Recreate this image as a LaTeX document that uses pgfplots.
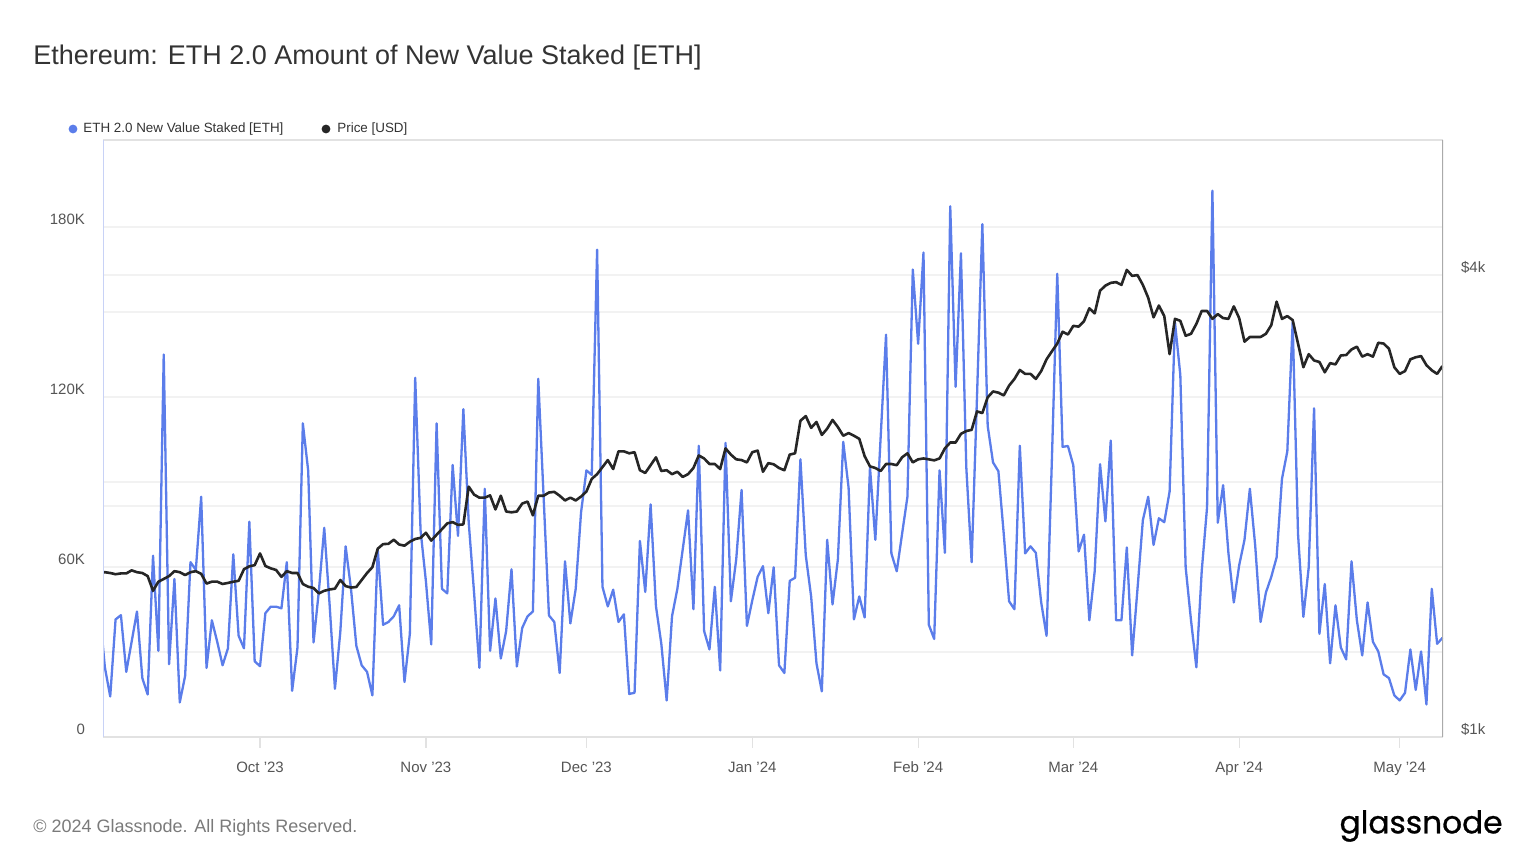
\documentclass[border=0pt]{standalone}
\usepackage{fontspec}
\setmainfont{Liberation Sans}
\newfontfamily\logofont{Poppins}[FakeBold=0.8]
\usepackage{graphicx}
\usepackage{pgfplots}
\pgfplotsset{compat=1.18}
\usepackage{pgfplotstable}
\definecolor{stakeblue}{HTML}{5B7DEA}
\definecolor{pricedark}{HTML}{262626}
\definecolor{gridgray}{HTML}{F2F2F2}
\definecolor{leftspine}{HTML}{C8D2F6}
\definecolor{rightspine}{HTML}{AAAAAA}
\definecolor{framegray}{HTML}{E2E2E2}
\definecolor{ticktext}{HTML}{555555}
\definecolor{titletext}{HTML}{333333}
\definecolor{foottext}{HTML}{7A7A7A}

% day index: 0 = 1 Oct 2023
\pgfplotstableread{
d v
-30 45000
-29 24600
-28 14300
-27 41500
-26 43000
-25 23000
-24 33600
-23 44300
-22 20800
-21 15000
-20 64000
-19 30400
-18 135000
-17 25700
-16 55800
-15 12200
-14 21600
-13 61700
-12 59000
-11 84800
-10 24400
-9 41200
-8 33600
-7 25300
-6 31300
-5 64500
-4 35700
-3 31300
-2 76000
-1 26700
0 25000
1 43700
2 46000
3 46000
4 45400
5 61700
6 16300
7 31600
8 110700
9 94000
10 33400
11 51600
12 73800
13 46800
14 17000
15 37000
16 67300
17 52300
18 32200
19 25300
20 23000
21 14700
22 66200
23 39600
24 40600
25 42600
26 46500
27 19400
28 36400
29 126800
30 73000
31 55000
32 32700
33 110700
34 52300
35 50700
36 96000
37 71000
38 115700
39 75800
40 51000
41 24400
42 87600
43 30400
44 48900
45 27700
46 37400
47 59200
48 24900
49 38500
50 42600
51 44300
52 126400
53 84800
54 42900
55 40600
56 22600
57 62000
58 40100
59 52300
60 79300
61 94100
62 92500
63 172000
64 53000
65 46100
66 52000
67 40600
68 43300
69 15200
70 15600
71 69200
72 51200
73 82100
74 46100
75 32900
76 12900
77 42600
78 52300
79 66200
80 80000
81 45100
82 102800
83 37400
84 30900
85 53000
86 23500
87 103800
88 47900
89 62700
90 87200
91 39200
92 48200
93 56500
94 60300
95 43700
96 59900
97 25300
98 22600
99 55100
100 56200
101 98000
102 64100
103 49600
104 26000
105 16100
106 69600
107 46800
108 62700
109 104200
110 88000
111 41500
112 49600
113 42200
114 95200
115 69600
116 106000
117 142000
118 64800
119 58500
120 71700
121 84800
122 165000
123 138800
124 171000
125 39600
126 34600
127 94100
128 65000
129 187300
130 123600
131 170700
132 95200
133 61700
134 120000
135 181000
136 109800
137 96900
138 93800
139 71700
140 47900
141 45100
142 102800
143 64800
144 67300
145 65000
146 47500
147 35700
148 98000
149 163500
150 102400
151 102700
152 95900
153 65500
154 71400
155 41200
156 58500
157 96300
158 76100
159 104600
160 41200
161 41200
162 66900
163 28800
164 52300
165 76500
166 84800
167 67800
168 77200
169 75800
170 86600
171 146400
172 127800
173 59900
174 41200
175 24600
176 58500
177 81100
178 192800
179 75600
180 88900
181 64800
182 47500
183 60600
184 69600
185 87600
186 67500
187 40600
188 51000
189 56500
190 63400
191 91100
192 100800
193 146400
194 71700
195 42400
196 59900
197 116000
198 36400
199 54000
200 26000
201 46500
202 31600
203 27400
204 62000
205 41200
206 28800
207 47500
208 33600
209 30200
210 22100
211 20800
212 14700
213 12900
214 15600
215 30900
216 16600
217 30200
218 11500
219 52300
220 32900
221 35000
}\stakedtable

\pgfplotstableread{
d p
-30 1640
-29 1640
-28 1636
-27 1630
-26 1634
-25 1634
-24 1649
-23 1640
-22 1636
-21 1621
-20 1551
-19 1594
-18 1607
-17 1621
-16 1645
-15 1640
-14 1626
-13 1640
-12 1645
-11 1632
-10 1585
-9 1594
-8 1594
-7 1583
-6 1588
-5 1594
-4 1598
-3 1655
-2 1669
-1 1675
0 1735
1 1671
2 1659
3 1651
4 1617
5 1645
6 1636
7 1636
8 1583
9 1570
10 1564
11 1539
12 1551
13 1557
14 1561
15 1602
16 1573
17 1566
18 1569
19 1602
20 1636
21 1665
22 1760
23 1784
24 1786
25 1808
26 1782
27 1776
28 1797
29 1812
30 1818
31 1846
32 1803
33 1835
34 1866
35 1899
36 1906
37 1890
38 1893
39 2120
40 2070
41 2051
42 2051
43 2065
44 1980
45 2063
46 1968
47 1963
48 1968
49 2015
50 2027
51 1945
52 2063
53 2063
54 2083
55 2087
56 2063
57 2034
58 2051
59 2034
60 2058
61 2089
62 2170
63 2201
64 2248
65 2296
66 2235
67 2357
68 2357
69 2343
70 2351
71 2227
72 2209
73 2261
74 2315
75 2222
76 2227
77 2201
78 2217
79 2183
80 2201
81 2242
82 2328
83 2307
84 2269
85 2269
86 2235
87 2378
88 2334
89 2301
90 2296
91 2280
92 2351
93 2362
94 2217
95 2275
96 2267
97 2242
98 2227
99 2334
100 2343
101 2584
102 2620
103 2529
104 2574
105 2476
106 2523
107 2590
108 2535
109 2470
110 2490
111 2470
112 2447
113 2323
114 2253
115 2242
116 2222
117 2269
118 2269
119 2261
120 2315
121 2343
122 2280
123 2301
124 2307
125 2301
126 2294
127 2307
128 2378
129 2420
130 2420
131 2484
132 2505
133 2514
134 2657
135 2644
136 2772
137 2821
138 2811
139 2788
140 2871
141 2929
142 3009
143 2974
144 2974
145 2929
146 2999
147 3107
148 3182
149 3257
150 3375
151 3347
152 3435
153 3427
154 3484
155 3621
156 3566
157 3817
158 3876
159 3908
160 3917
161 3885
162 4063
163 3991
164 4000
165 3885
166 3737
167 3524
168 3651
169 3537
170 3155
171 3508
172 3487
173 3334
174 3354
175 3455
176 3592
177 3592
178 3508
179 3558
180 3516
181 3508
182 3642
183 3516
184 3276
185 3322
186 3322
187 3322
188 3354
189 3442
190 3694
191 3508
192 3537
193 3495
194 3257
195 3034
196 3155
197 3096
198 3082
199 2988
200 3071
201 3060
202 3143
203 3147
204 3200
205 3227
206 3132
207 3155
208 3132
209 3265
210 3257
211 3207
212 3034
213 2974
214 2999
215 3107
216 3126
217 3137
218 3053
219 3006
220 2974
221 3045
}\pricetable

\begin{document}
\begin{tikzpicture}

\begin{axis}[
  set layers,
  at={(51.5pt,63.5pt)}, anchor=south west,
  scale only axis, width=670pt, height=298.5pt,
  xmin=-29.35, xmax=221.1,
  ymin=0, ymax=210700,
  axis line style={draw=none},
  xtick={0,31,61,92,123,152,183,213},
  xticklabels={Oct '23,Nov '23,Dec '23,Jan '24,Feb '24,Mar '24,Apr '24,May '24},
  xtick pos=bottom,
  tick align=outside,
  xtick style={draw=framegray, line width=0.6pt},
  major tick length=5.5pt,
  ytick={0,30000,60000,90000,120000,150000,180000},
  yticklabels={0,,60K,,120K,,180K},
  ytick style={draw=none},
  scaled y ticks=false,
  ymajorgrids,
  major grid style={draw=gridgray, line width=0.6pt},
  tick label style={font=\fontsize{7.5}{9}\selectfont, text=ticktext},
  yticklabel style={yshift=4pt},
  xticklabel style={yshift=-3.5pt},
]
\addplot[stakeblue, line width=1.15pt, line join=round] table[x=d,y=v]{\stakedtable};
\end{axis}

\begin{axis}[
  set layers,
  at={(51.5pt,63.5pt)}, anchor=south west,
  scale only axis, width=670pt, height=298.5pt,
  xmin=-29.35, xmax=221.1,
  ymode=log, ymin=1000, ymax=6000,
  axis x line=none,
  axis y line*=right,
  axis line style={draw=none},
  ytick={1000,2000,4000},
  yticklabels={\$1k,,\$4k},
  yminorticks=false,
  ytick style={draw=none},
  major tick length=5.5pt,
  tick align=outside,
  ymajorgrids,
  major grid style={draw=gridgray, line width=0.6pt},
  tick label style={font=\fontsize{7.5}{9}\selectfont, text=ticktext},
  yticklabel style={yshift=4pt},
]
\addplot[pricedark, line width=1.3pt, line join=round] table[x=d,y=p]{\pricetable};
\draw[framegray, line width=0.8pt] (rel axis cs:0,1) -- (rel axis cs:1,1);
\draw[framegray, line width=0.8pt] (rel axis cs:0,0) -- (rel axis cs:1,0);
\draw[leftspine, line width=1pt] (rel axis cs:0,0) -- (rel axis cs:0,1);
\draw[rightspine, line width=0.6pt] (rel axis cs:1,0) -- (rel axis cs:1,1);
\end{axis}

% title
\node[anchor=west, text=titletext, font=\fontsize{13.5}{16}\selectfont, inner sep=0pt] at (16.5pt,403pt) {Ethereum: ETH 2.0 Amount of New Value Staked [ETH]};

% legend
\fill[stakeblue] (36.5pt,367.5pt) circle (2.2pt);
\node[anchor=west, text=titletext, font=\fontsize{6.7}{8}\selectfont, inner sep=0pt] at (41.5pt,367.5pt) {ETH 2.0 New Value Staked [ETH]};
\fill[pricedark] (163pt,367.5pt) circle (2.2pt);
\node[anchor=west, text=titletext, font=\fontsize{6.7}{8}\selectfont, inner sep=0pt] at (168.5pt,367.5pt) {Price [USD]};

% footer
\node[anchor=west, text=foottext, font=\fontsize{9}{11}\selectfont, inner sep=0pt] at (16.5pt,18pt) {© 2024 Glassnode. All Rights Reserved.};
\node[anchor=east, inner sep=0pt] at (751.5pt,19pt) {\resizebox{81.5pt}{!}{\logofont glassnode}};

\path (0,0) rectangle (768pt,432pt);
\end{tikzpicture}
\end{document}
